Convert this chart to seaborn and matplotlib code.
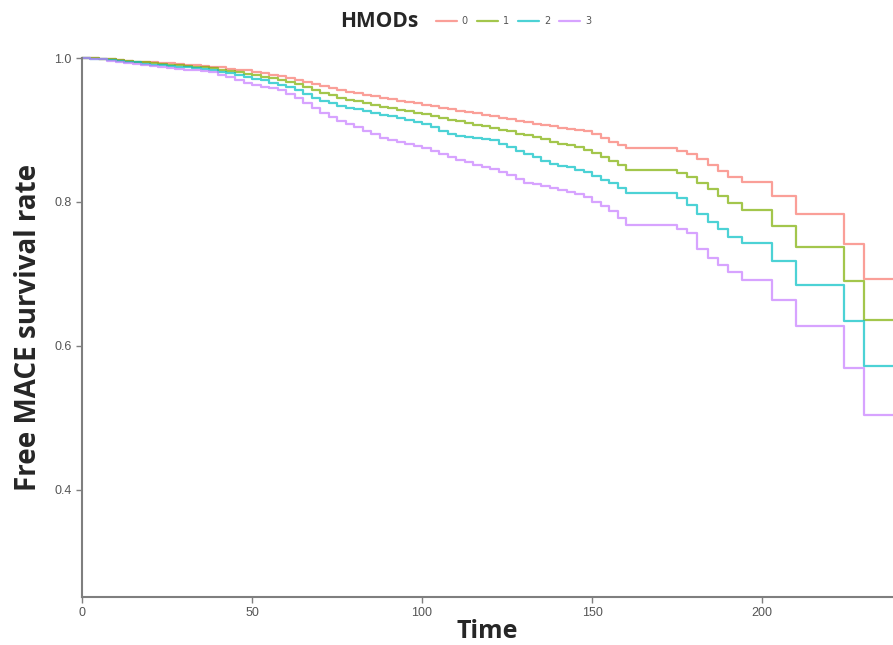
import matplotlib
matplotlib.use("Agg")
import matplotlib.pyplot as plt
import seaborn as sns
import pandas as pd

# shared event times (step-post)
time = [0, 2.5, 5, 7.5, 10, 12.5, 15, 17.5, 20, 22.5, 25, 27.5, 30, 32.5, 35, 37.5,
        40, 42.5, 45, 47.5, 50, 52.5, 55, 57.5, 60, 62.5, 65, 67.5, 70, 72.5, 75, 77.5,
        80, 82.5, 85, 87.5, 90, 92.5, 95, 97.5, 100, 102.5, 105, 107.5, 110, 112.5, 115, 117.5,
        120, 122.5, 125, 127.5, 130, 132.5, 135, 137.5, 140, 142.5, 145, 147.5, 150, 152.5, 155, 157.5,
        160, 175, 178, 181, 184, 187, 190, 194, 203, 210, 224, 230, 238.5]

surv_0 = [1.000, 1.000, 0.999, 0.998, 0.997, 0.996, 0.995, 0.995, 0.994, 0.993, 0.993, 0.992, 0.991, 0.990, 0.989, 0.988,
          0.987, 0.985, 0.984, 0.983, 0.981, 0.979, 0.977, 0.975, 0.972, 0.970, 0.967, 0.964, 0.961, 0.958, 0.955, 0.953,
          0.951, 0.949, 0.947, 0.945, 0.943, 0.941, 0.939, 0.937, 0.935, 0.933, 0.931, 0.929, 0.927, 0.925, 0.923, 0.921,
          0.919, 0.917, 0.915, 0.913, 0.911, 0.909, 0.907, 0.905, 0.903, 0.901, 0.900, 0.898, 0.894, 0.889, 0.884, 0.879,
          0.875, 0.871, 0.866, 0.860, 0.851, 0.843, 0.835, 0.828, 0.808, 0.783, 0.742, 0.693, 0.693]
surv_1 = [1.000, 1.000, 0.999, 0.998, 0.997, 0.996, 0.995, 0.994, 0.993, 0.992, 0.991, 0.990, 0.989, 0.988, 0.987, 0.986,
          0.984, 0.982, 0.980, 0.978, 0.976, 0.974, 0.972, 0.970, 0.967, 0.964, 0.960, 0.956, 0.952, 0.948, 0.945, 0.942,
          0.940, 0.937, 0.935, 0.932, 0.930, 0.928, 0.926, 0.924, 0.922, 0.919, 0.917, 0.914, 0.912, 0.910, 0.907, 0.905,
          0.903, 0.900, 0.898, 0.895, 0.893, 0.890, 0.887, 0.884, 0.881, 0.879, 0.876, 0.872, 0.868, 0.863, 0.857, 0.851,
          0.844, 0.840, 0.834, 0.826, 0.818, 0.808, 0.798, 0.789, 0.767, 0.738, 0.690, 0.636, 0.636]
surv_2 = [1.000, 0.999, 0.998, 0.997, 0.996, 0.995, 0.994, 0.992, 0.991, 0.990, 0.989, 0.988, 0.987, 0.986, 0.985, 0.983,
          0.981, 0.979, 0.976, 0.974, 0.971, 0.969, 0.966, 0.963, 0.960, 0.955, 0.950, 0.945, 0.940, 0.937, 0.934, 0.931,
          0.929, 0.926, 0.924, 0.921, 0.919, 0.916, 0.914, 0.911, 0.909, 0.904, 0.899, 0.894, 0.892, 0.890, 0.889, 0.887,
          0.886, 0.881, 0.876, 0.871, 0.866, 0.862, 0.857, 0.853, 0.850, 0.848, 0.845, 0.841, 0.836, 0.831, 0.826, 0.819,
          0.812, 0.806, 0.796, 0.783, 0.772, 0.763, 0.752, 0.743, 0.718, 0.685, 0.634, 0.572, 0.572]
surv_3 = [1.000, 0.999, 0.998, 0.996, 0.995, 0.993, 0.992, 0.990, 0.989, 0.988, 0.986, 0.985, 0.984, 0.983, 0.982, 0.980,
          0.977, 0.974, 0.970, 0.966, 0.962, 0.960, 0.958, 0.955, 0.950, 0.944, 0.938, 0.931, 0.924, 0.918, 0.913, 0.908,
          0.904, 0.899, 0.894, 0.889, 0.886, 0.883, 0.881, 0.878, 0.875, 0.871, 0.866, 0.862, 0.858, 0.855, 0.852, 0.849,
          0.846, 0.842, 0.837, 0.832, 0.827, 0.825, 0.822, 0.820, 0.817, 0.814, 0.811, 0.807, 0.800, 0.794, 0.787, 0.778,
          0.768, 0.763, 0.757, 0.735, 0.722, 0.713, 0.703, 0.692, 0.664, 0.627, 0.569, 0.504, 0.504]

groups = ["0", "1", "2", "3"]
colors = ["#F8766D", "#7CAE00", "#00BFC4", "#C77CFF"]

df = pd.concat([
    pd.DataFrame({"time": time, "surv": s, "HMODs": g})
    for g, s in zip(groups, [surv_0, surv_1, surv_2, surv_3])
])

sns.set_style("white")
fig = plt.figure(figsize=(8.93, 6.45), dpi=100)
ax = fig.add_axes([0.0918, 0.0744, 0.9082, 0.8356])

sns.lineplot(data=df, x="time", y="surv", hue="HMODs", palette=colors,
             drawstyle="steps-post", estimator=None, sort=False,
             linewidth=1.6, alpha=0.7, ax=ax, legend=True)
for ln in ax.lines:
    ln.set_clip_on(False)

ax.set_xlim(0, 238.5)
ax.set_ylim(0.251, 1.0)
ax.set_xticks([0, 50, 100, 150, 200])
ax.set_yticks([0.4, 0.6, 0.8, 1.0])
ax.set_yticklabels(["0.4", "0.6", "0.8", "1.0"])
ax.tick_params(axis="both", length=4, width=1, color="#7f7f7f", labelcolor="#555555",
               labelsize=9, direction="out", bottom=True, left=True)
for lbl in ax.get_xticklabels() + ax.get_yticklabels():
    lbl.set_family("Liberation Sans")

for side in ["top", "right"]:
    ax.spines[side].set_visible(False)
for side in ["left", "bottom"]:
    ax.spines[side].set_color("#7f7f7f")
    ax.spines[side].set_linewidth(1.5)

ax.set_xlabel("Time", fontsize=18, fontweight="bold", family="Open Sans", labelpad=0)
ax.set_ylabel("Free MACE survival rate", fontsize=20, fontweight="bold",
              family="Open Sans", labelpad=8)

handles, labels = ax.get_legend_handles_labels()
ax.legend_.remove()
fig.text(0.425, 0.967, "HMODs", fontsize=15, fontweight="bold", family="Open Sans",
         ha="center", va="center")
leg = fig.legend(handles, labels, loc="center left", bbox_to_anchor=(0.478, 0.967),
                 ncol=4, frameon=False, fontsize=7, handlelength=2.2,
                 columnspacing=0.9, handletextpad=0.5)
for t in leg.get_texts():
    t.set_color("#555555")

fig.savefig("out.png", dpi=100)
